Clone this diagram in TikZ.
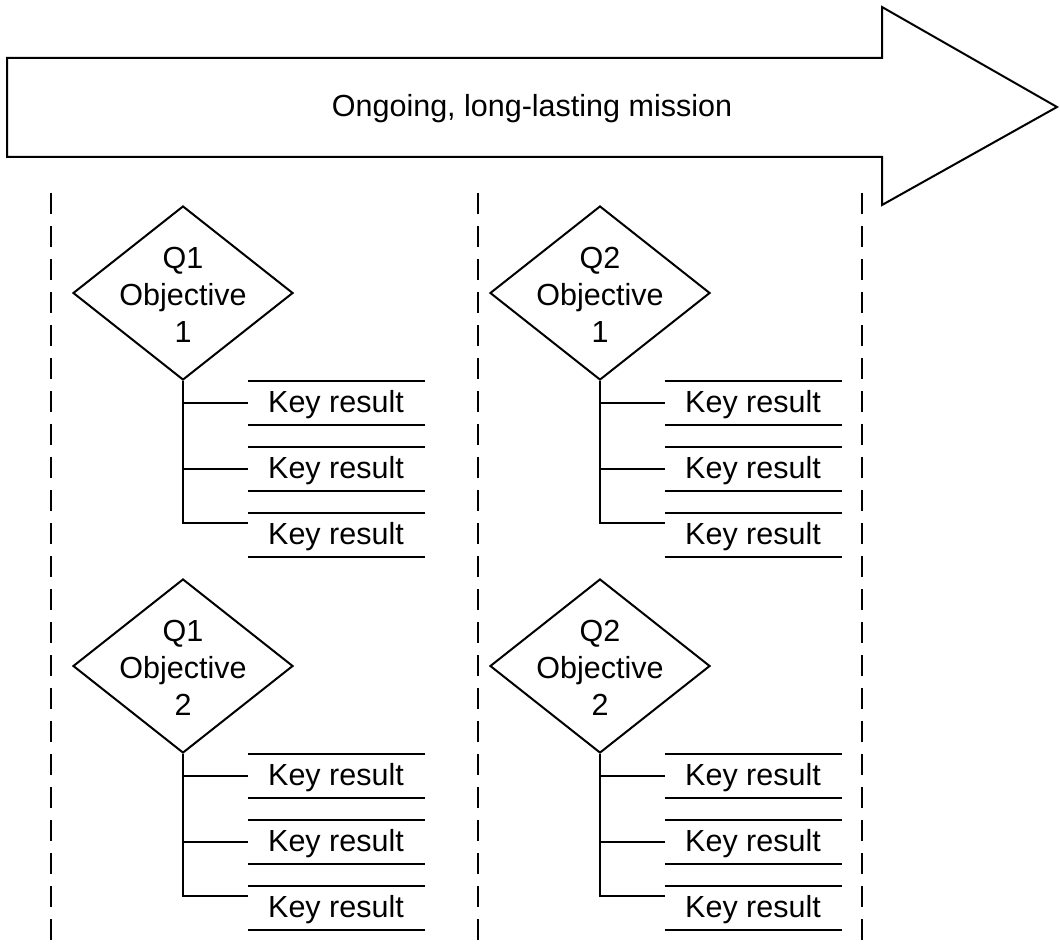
\documentclass[tikz,border=0pt]{standalone}
\usepackage{fontspec}
\setmainfont{Liberation Sans}
\usetikzlibrary{shapes.geometric,calc}
\begin{document}
\begin{tikzpicture}[x=1pt,y=1pt,
  ln/.style={line width=2pt},
  objbox/.style={diamond, draw, line width=2pt, minimum width=220pt, minimum height=174pt, inner sep=0pt},
  objtext/.style={align=center, font=\fontsize{30.5pt}{37pt}\selectfont, inner sep=0pt},
  kr/.style={minimum width=177pt, minimum height=44pt, inner sep=0pt, font=\fontsize{30.5pt}{37pt}\selectfont},
  krtext/.style={inner sep=0pt, font=\fontsize{30.5pt}{37pt}\selectfont},
  sepline/.style={line width=2.2pt, dash pattern=on 21pt off 12pt}]
\useasboundingbox (0,0) rectangle (1060,-952);
% mission arrow
\draw[ln] (7,-58) -- (882,-58) -- (882,-7) -- (1057,-107) -- (882,-205) -- (882,-157) -- (7,-157) -- cycle;
\node[font=\fontsize{30.5pt}{37pt}\selectfont] (mission) at (532,-109) {Ongoing, long-lasting mission};
% quarter separators
\foreach \sx in {51,478,862} {
  \draw[sepline] (\sx,-193) -- (\sx,-952);
}
% objectives and key results
\foreach \cx/\q in {0/1, 417/2} {
  \foreach \ry/\o in {0/1, 373/2} {
    \node[objbox] (d\q\o) at (183+\cx, -293-\ry) {};
    \node[objtext] (t\q\o) at (183+\cx, -295-\ry) {Q\q\\Objective\\\o};
    \foreach \i/\yy in {a/403, b/469, c/535} {
      \node[kr] (k\q\o\i) at (336.5+\cx, -\yy-\ry) {};
      \node[krtext] (l\q\o\i) at (336+\cx, -\yy-\ry-2) {Key result};
      \draw[ln] (k\q\o\i.north west) -- (k\q\o\i.north east)
                (k\q\o\i.south west) -- (k\q\o\i.south east);
    }
    \draw[ln] (d\q\o.south) |- ([yshift=12pt]k\q\o c.west);
    \draw[ln] (d\q\o.south |- k\q\o a.west) -- (k\q\o a.west);
    \draw[ln] (d\q\o.south |- k\q\o b.west) -- (k\q\o b.west);
  }
}
\end{tikzpicture}
\end{document}
